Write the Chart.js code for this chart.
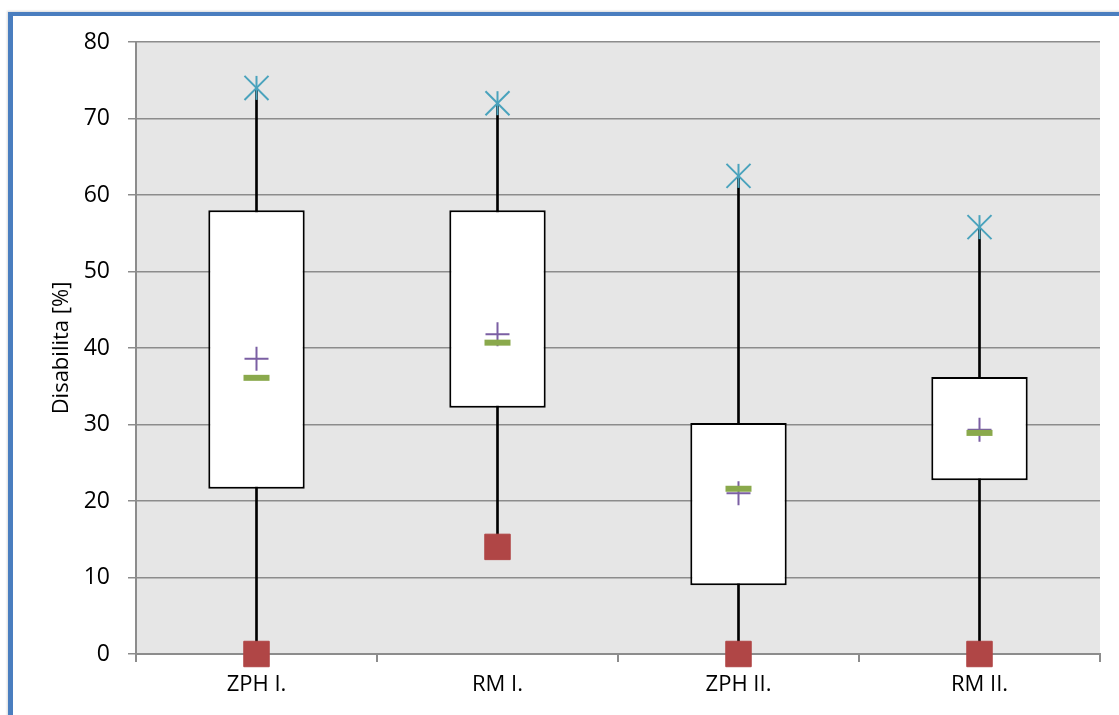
<!DOCTYPE html>
<html>
<head>
<meta charset="utf-8">
<title>Disabilita</title>
<script src="https://cdn.jsdelivr.net/npm/chart.js@4/dist/chart.umd.min.js"></script>
<style>
  html, body { margin: 0; padding: 0; background: #ffffff; }
  #wrap { position: relative; width: 1119px; height: 715px; overflow: hidden; }
  #frame {
    position: absolute; left: 8px; top: 12px; width: 1200px; height: 800px;
    border-left: 5px solid #4a7ebf; border-top: 4px solid #4a7ebf;
    box-shadow: -1px -1px 2px rgba(0,0,0,0.15);
  }
  #c { position: absolute; left: 0; top: 0; }
</style>
</head>
<body>
<div id="wrap">
  <div id="frame"></div>
  <canvas id="c" width="1119" height="715"></canvas>
</div>
<script>
// Box-plot summary per group
const categories = ['ZPH I.', 'RM I.', 'ZPH II.', 'RM II.'];
const minVals    = [0, 14, 0, 0];
const q1Vals     = [21.6, 32.2, 9.0, 22.7];
const medianVals = [36.1, 40.7, 21.6, 28.9];
const meanVals   = [38.6, 41.8, 21.0, 29.3];
const q3Vals     = [58.0, 58.0, 30.2, 36.2];
const maxVals    = [74.0, 72.0, 62.5, 55.8];
const yTicks     = [0, 10, 20, 30, 40, 50, 60, 70, 80];
const yTitle     = 'Disabilita [%]';

const FONT = "'Open Sans', 'Liberation Sans', sans-serif";
const GRID = '#8c8c8c';

const boxRanges = categories.map((_, i) => [q1Vals[i], q3Vals[i]]);
const whiskerRanges = categories.map((_, i) => [minVals[i], maxVals[i]]);

// grey plot background behind everything in the chart area
const plotBackground = {
  id: 'plotBackground',
  beforeDraw(chart) {
    const { ctx, chartArea: a } = chart;
    ctx.save();
    ctx.fillStyle = '#e6e6e6';
    ctx.fillRect(a.left, a.top, a.right - a.left, a.bottom - a.top);
    ctx.restore();
  }
};

function markerSet(label, values, style, color, radius, width, rotation) {
  return {
    type: 'line',
    label,
    data: values,
    showLine: false,
    clip: false,
    order: 0,
    pointStyle: style,
    pointRadius: radius,
    pointHoverRadius: radius,
    pointRotation: rotation || 0,
    pointBorderWidth: width,
    pointBorderColor: color,
    pointBackgroundColor: color
  };
}

new Chart(document.getElementById('c'), {
  type: 'bar',
  data: {
    labels: categories,
    datasets: [
      {
        label: 'whisker',
        data: whiskerRanges,
        grouped: false,
        order: 3,
        backgroundColor: '#000000',
        borderWidth: 0,
        barThickness: 2
      },
      {
        label: 'box',
        data: boxRanges,
        grouped: false,
        order: 2,
        backgroundColor: '#ffffff',
        borderColor: '#000000',
        borderWidth: 2,
        borderSkipped: false,
        categoryPercentage: 1,
        barPercentage: 0.4
      },
      markerSet('median', medianVals, 'line', '#8aa94c', 13, 6, 0),
      markerSet('mean', meanVals, 'cross', '#7b5fa3', 12, 2, 0),
      markerSet('min', minVals, 'rect', '#b04646', 18, 1, 0),
      markerSet('max', maxVals, 'crossRot', '#4aa3bd', 17, 2, 0),
      markerSet('max-stem', maxVals, 'line', '#4aa3bd', 12, 2, 90)
    ]
  },
  options: {
    responsive: false,
    animation: false,
    layout: { padding: { left: 0, top: 42, right: 19, bottom: 0 } },
    plugins: {
      legend: { display: false },
      tooltip: { enabled: false }
    },
    scales: {
      x: {
        offset: true,
        grid: {
          offset: true,
          drawOnChartArea: false,
          drawTicks: true,
          tickLength: 8,
          color: GRID,
          lineWidth: 2
        },
        border: { display: true, color: GRID, width: 2 },
        ticks: {
          color: '#000000',
          padding: 10,
          font: { family: FONT, size: 22 }
        },
        afterFit(scale) { scale.height = 61; }
      },
      y: {
        min: 0,
        max: 80,
        afterBuildTicks(scale) { scale.ticks = yTicks.map(v => ({ value: v })); },
        grid: {
          color: GRID,
          lineWidth: 1.5,
          drawTicks: true,
          tickLength: 8
        },
        border: { display: true, color: GRID, width: 2 },
        ticks: {
          color: '#000000',
          padding: 18,
          font: { family: FONT, size: 23 }
        },
        title: {
          display: true,
          text: yTitle,
          color: '#000000',
          font: { family: FONT, size: 22 },
          padding: { top: 49, bottom: 0 }
        },
        afterFit(scale) { scale.width = 136; }
      }
    }
  },
  plugins: [plotBackground]
});
</script>
</body>
</html>
